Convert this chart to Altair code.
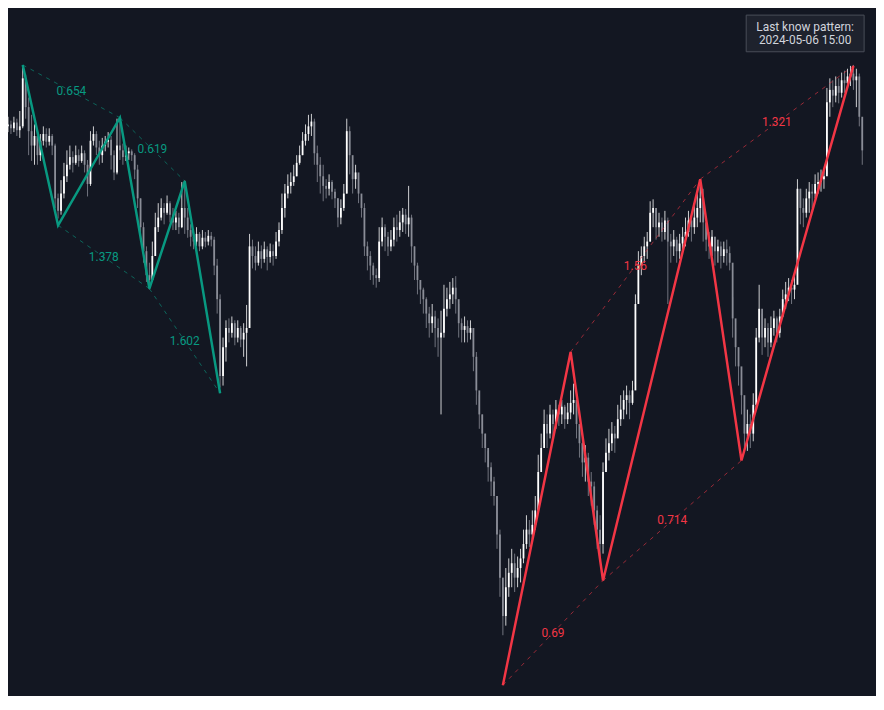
import altair as alt
import pandas as pd

# ---- candle data (one candle per bar index; open = previous close) ----
first_open = 880
close = [
    882, 878, 884, 876, 880, 930, 900, 875, 860, 870,
    850, 865, 872, 864, 870, 860, 805, 792, 810, 828,
    840, 848, 842, 850, 844, 852, 840, 820, 865, 872,
    858, 850, 860, 864, 866, 850, 832, 860, 855, 848,
    852, 854, 850, 835, 805, 775, 750, 725, 720, 745,
    775, 785, 795, 790, 800, 788, 780, 785, 775, 795,
    785, 772, 765, 760, 768, 755, 764, 760, 766, 762,
    735, 700, 620, 650, 670, 665, 675, 660, 670, 658,
    665, 670, 755, 745, 738, 750, 742, 752, 744, 750,
    745, 760, 772, 795, 810, 818, 822, 828, 842, 850,
    865, 872, 880, 885, 852, 840, 828, 818, 815, 822,
    812, 805, 785, 795, 810, 875, 850, 825, 832, 810,
    795, 755, 745, 735, 725, 722, 760, 775, 765, 755,
    762, 775, 772, 780, 788, 778, 785, 755, 735, 720,
    710, 700, 685, 675, 682, 670, 660, 665, 690, 700,
    705, 712, 700, 675, 668, 672, 665, 670, 640, 605,
    580, 560, 545, 525, 510, 495, 455, 410, 370, 400,
    415, 425, 410, 420, 430, 445, 460, 455, 465, 480,
    520, 545, 570, 560, 580, 570, 585, 580, 588, 575,
    582, 592, 595, 570, 550, 530, 535, 510, 505, 480,
    460, 445, 520, 540, 550, 560, 555, 575, 585, 595,
    600, 592, 605, 695, 735, 745, 755, 760, 790, 795,
    775, 780, 770, 782, 760, 755, 762, 750, 758, 765,
    770, 782, 775, 785, 795, 805, 780, 762, 755, 765,
    750, 755, 745, 752, 748, 738, 680, 650, 630, 600,
    560, 570, 560, 590, 660, 690, 660, 670, 655, 670,
    680, 665, 682, 700, 705, 712, 710, 715, 815, 795,
    790, 805, 812, 810, 820, 822, 825, 828, 905, 918,
    912, 922, 915, 928, 925, 932, 935, 928, 932, 890,
    855,
]
high = [
    890, 886, 890, 888, 896, 943, 934, 910, 892, 882,
    875, 872, 880, 878, 878, 872, 862, 810, 824, 842,
    855, 860, 854, 860, 856, 860, 855, 845, 875, 880,
    875, 865, 868, 870, 874, 870, 855, 888, 888, 862,
    860, 858, 856, 852, 840, 805, 780, 755, 738, 760,
    790, 800, 805, 800, 808, 802, 795, 792, 790, 822,
    824, 795, 778, 772, 775, 770, 772, 770, 772, 770,
    765, 742, 705, 660, 678, 680, 682, 678, 678, 672,
    675, 694, 768, 762, 755, 760, 756, 760, 755, 758,
    757, 770, 780, 810, 820, 830, 832, 840, 850, 860,
    874, 882, 892, 893, 888, 860, 848, 840, 825, 830,
    824, 815, 805, 804, 820, 888, 880, 840, 840, 830,
    805, 800, 760, 750, 738, 732, 775, 785, 778, 770,
    772, 785, 788, 792, 795, 794, 818, 788, 755, 738,
    720, 712, 702, 692, 695, 688, 680, 688, 715, 712,
    718, 722, 724, 695, 680, 682, 678, 678, 670, 645,
    600, 580, 560, 542, 530, 515, 495, 460, 400, 420,
    430, 440, 435, 432, 440, 460, 475, 470, 480, 495,
    538, 560, 585, 580, 590, 585, 595, 590, 595, 590,
    592, 605, 612, 595, 570, 555, 548, 540, 520, 510,
    485, 475, 530, 555, 565, 572, 568, 590, 600, 605,
    610, 605, 615, 705, 750, 755, 765, 770, 802, 804,
    795, 790, 785, 792, 785, 768, 772, 765, 768, 775,
    785, 792, 788, 800, 810, 820, 815, 778, 770, 772,
    765, 762, 760, 760, 762, 755, 702, 670, 650, 620,
    590, 585, 580, 602, 670, 715, 685, 680, 675, 682,
    688, 682, 690, 710, 718, 722, 720, 725, 825, 815,
    805, 815, 822, 820, 830, 832, 835, 835, 920, 930,
    928, 932, 930, 936, 938, 940, 943, 944, 940, 935,
    888,
]
low = [
    874, 872, 874, 870, 868, 878, 888, 850, 844, 840,
    840, 844, 860, 858, 860, 850, 795, 784, 788, 805,
    822, 835, 832, 840, 838, 842, 832, 807, 818, 860,
    850, 840, 842, 854, 858, 835, 824, 830, 845, 840,
    844, 845, 844, 825, 795, 760, 738, 718, 710, 718,
    745, 770, 782, 778, 788, 780, 772, 772, 768, 774,
    768, 764, 755, 752, 755, 750, 752, 754, 756, 755,
    725, 685, 608, 610, 635, 655, 660, 652, 655, 650,
    640, 630, 670, 732, 730, 735, 732, 738, 730, 738,
    735, 742, 755, 768, 785, 805, 810, 818, 828, 840,
    850, 860, 865, 870, 840, 822, 810, 802, 805, 808,
    804, 795, 775, 778, 792, 810, 830, 810, 815, 800,
    785, 745, 730, 720, 715, 712, 718, 755, 750, 745,
    750, 755, 760, 765, 770, 768, 765, 738, 720, 705,
    695, 685, 670, 660, 665, 650, 640, 580, 660, 682,
    690, 695, 685, 660, 655, 655, 655, 658, 625, 590,
    565, 545, 530, 510, 495, 485, 440, 390, 350, 360,
    390, 400, 395, 400, 405, 425, 440, 442, 450, 460,
    490, 525, 550, 545, 555, 555, 565, 568, 570, 565,
    570, 575, 580, 555, 535, 515, 510, 495, 485, 465,
    440, 430, 435, 522, 532, 542, 540, 560, 568, 575,
    580, 575, 590, 610, 700, 725, 738, 742, 760, 775,
    762, 765, 760, 762, 695, 738, 745, 738, 742, 752,
    755, 765, 760, 768, 775, 780, 760, 750, 742, 745,
    735, 738, 732, 738, 735, 730, 660, 630, 610, 580,
    545, 542, 545, 552, 585, 655, 642, 650, 640, 650,
    662, 655, 660, 682, 690, 698, 695, 700, 755, 778,
    775, 785, 790, 795, 805, 810, 812, 815, 830, 890,
    900, 905, 904, 910, 915, 920, 922, 918, 900, 880,
    840,
]

# ---- harmonic pattern pivots ----
green_bar = [5, 17, 38, 48, 60, 72]
green_price = [944, 777, 889, 711, 823, 602]
green_ratio = ["0.654", "0.619", "1.378", "1.602"]

red_bar = [168, 191, 202, 235, 249, 287]
red_price = [298, 645, 407, 825, 532, 943]
red_ratio = ["0.69", "0.714", "1.56", "1.321"]

ratio_legs = [(0, 2), (2, 4), (1, 3), (3, 5)]
box_lines = ["Last know pattern:", "2024-05-06 15:00"]

# ---- styling ----
W, H = 876, 688
BG = "#131722"
GREEN = "#089981"
RED = "#F23645"
FONT = "Roboto"

n = len(close)
opens = [first_open] + close[:-1]
candles = pd.DataFrame({
    "bar": list(range(n)), "open": opens, "close": close,
    "high": high, "low": low,
})
candles["dir"] = ["up" if c >= o else "down" for o, c in zip(opens, close)]

xs = alt.Scale(domain=[0, 884 / 3], nice=False, zero=False)
ys = alt.Scale(domain=[290, 1000], nice=False, zero=False)
candle_color = alt.Color("dir:N", scale=alt.Scale(domain=["up", "down"], range=["#ffffff", "#8a8d97"]), legend=None)
pat_color = alt.Color("pattern:N", scale=alt.Scale(domain=["green", "red"], range=[GREEN, RED]), legend=None)

wicks = alt.Chart(candles).mark_rule(strokeWidth=1, opacity=0.8).encode(
    x=alt.X("bar:Q", scale=xs, axis=None),
    y=alt.Y("high:Q", scale=ys, axis=None),
    y2="low:Q",
    color=candle_color,
)
bodies = alt.Chart(candles).mark_rule(strokeWidth=1.8).encode(
    x=alt.X("bar:Q", scale=xs, axis=None),
    y=alt.Y("open:Q", scale=ys, axis=None),
    y2="close:Q",
    color=candle_color,
)

pts_rows, leg_rows = [], []
for name, bars, prices, ratios in [("green", green_bar, green_price, green_ratio),
                                     ("red", red_bar, red_price, red_ratio)]:
    for k, (b, p) in enumerate(zip(bars, prices)):
        pts_rows.append({"pattern": name, "order": k, "bar": b, "price": p})
    for (a, c), r in zip(ratio_legs, ratios):
        leg_rows.append({
            "pattern": name, "bar": bars[a], "price": prices[a],
            "bar2": bars[c], "price2": prices[c], "ratio": r,
            "mbar": (bars[a] + bars[c]) / 2, "mprice": (prices[a] + prices[c]) / 2,
        })
pts = pd.DataFrame(pts_rows)
legs = pd.DataFrame(leg_rows)

dashed = alt.Chart(legs).mark_rule(strokeWidth=1, strokeDash=[4, 5], opacity=0.6).encode(
    x=alt.X("bar:Q", scale=xs, axis=None),
    y=alt.Y("price:Q", scale=ys, axis=None),
    x2="bar2:Q", y2="price2:Q",
    color=pat_color,
)
lines = alt.Chart(pts).mark_line(strokeWidth=2.5).encode(
    x=alt.X("bar:Q", scale=xs, axis=None),
    y=alt.Y("price:Q", scale=ys, axis=None),
    color=pat_color,
    detail="pattern:N",
    order="order:Q",
)
labels = alt.Chart(legs).mark_text(font=FONT, fontSize=12, align="center", baseline="middle").encode(
    x=alt.X("mbar:Q", scale=xs, axis=None),
    y=alt.Y("mprice:Q", scale=ys, axis=None),
    text="ratio:N",
    color=pat_color,
)

# info box in the top-right corner (overlay, positioned in pixels)
box_df = pd.DataFrame({"label": ["\n".join(box_lines)]})
box = alt.Chart(box_df).mark_rect(fill="#1e222d", stroke="#4a4e59", strokeWidth=1).encode(
    x=alt.value(W - 131), x2=alt.value(W - 12), y=alt.value(4), y2=alt.value(41),
)
box_text = alt.Chart(box_df).mark_text(
    font=FONT, fontSize=12, color="#d1d4dc", align="center", baseline="middle",
    lineBreak="\n", lineHeight=12.5,
).encode(x=alt.value(W - 71.5), y=alt.value(16.5), text="label:N")

chart = alt.layer(wicks, bodies, dashed, lines, labels, box, box_text).resolve_scale(
    color="independent"
).properties(
    width=W, height=H, background=BG, padding=0,
    autosize=alt.AutoSizeParams(type="none"),
).configure_view(stroke=None)

chart.save("out.html", embed_options={"renderer": "svg", "actions": False})
